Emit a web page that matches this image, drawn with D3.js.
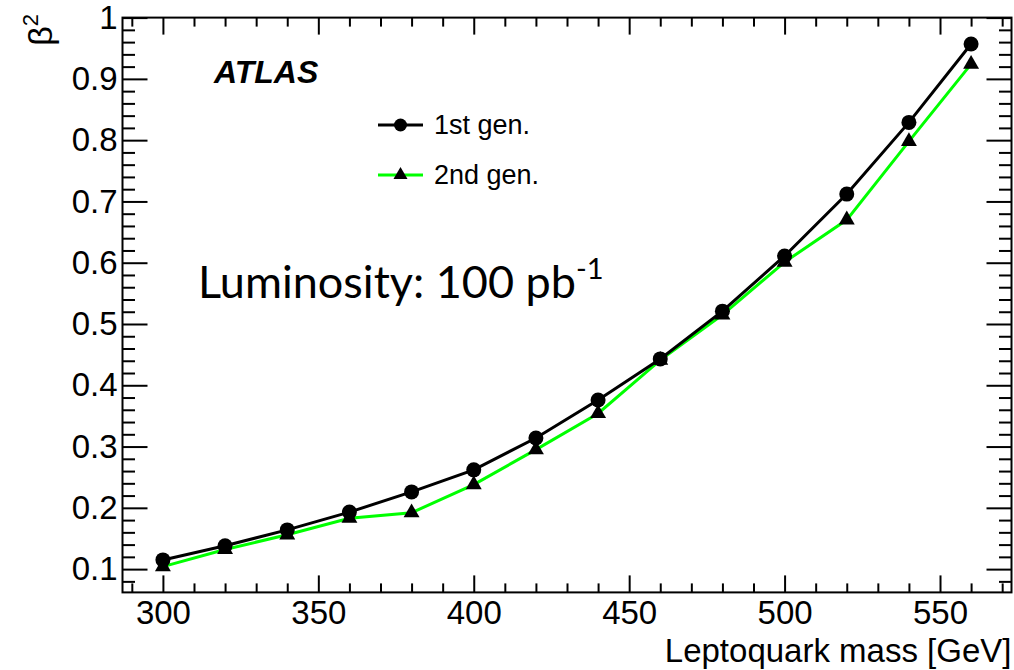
<!DOCTYPE html>
<html>
<head>
<meta charset="utf-8">
<script src="https://cdn.jsdelivr.net/npm/d3@7"></script>
<style>
  html, body { margin: 0; padding: 0; background: #fff; }
  svg { display: block; }
  text { font-family: "Liberation Sans", Arial, Helvetica, sans-serif; fill: #000; }
</style>
</head>
<body>
<svg id="chart" width="1014" height="670"></svg>
<script>
// Leptoquark masses [GeV]
const masses = [300, 320, 340, 360, 380, 400, 420, 440, 460, 480, 500, 520, 540, 560];
// beta^2 values for each generation
const gen1 = [0.115, 0.138, 0.164, 0.193, 0.226, 0.262, 0.314, 0.376, 0.443, 0.521, 0.611, 0.712, 0.829, 0.957];
const gen2 = [0.104, 0.132, 0.156, 0.183, 0.192, 0.238, 0.295, 0.354, 0.441, 0.515, 0.601, 0.670, 0.798, 0.924];
// tick labels
const xTicks = [300, 350, 400, 450, 500, 550];
const yTicks = [0.1, 0.2, 0.3, 0.4, 0.5, 0.6, 0.7, 0.8, 0.9, 1];

const svg = d3.select("#chart");
const L = 122.5, R = 1011.5, T = 17.6, B = 592.4;

const x = d3.scaleLinear().domain([287, 573]).range([L, R]);
const y = d3.scaleLinear().domain([0.062, 1.0]).range([B, T]);

const xMinor = d3.range(290, 573, 10).filter(v => v % 50 !== 0);
const yMinor = d3.range(0.08, 1.0001, 0.02).map(v => +v.toFixed(2))
  .filter(v => Math.abs(v * 10 - Math.round(v * 10)) > 1e-6);

function styleAxis(g) {
  g.select(".domain").remove();
  g.selectAll(".tick line").attr("stroke", "#000").attr("stroke-width", 2);
}

// bottom axis
svg.append("g").attr("transform", `translate(0,${B})`)
  .call(d3.axisBottom(x).tickValues(xTicks).tickSize(-17).tickPadding(8).tickFormat(d3.format("d")))
  .call(styleAxis)
  .selectAll("text").attr("font-size", 33).style("font-family", "Liberation Sans, Arial, sans-serif");
svg.append("g").attr("transform", `translate(0,${B})`)
  .call(d3.axisBottom(x).tickValues(xMinor).tickSize(-9).tickFormat(""))
  .call(styleAxis);
// top axis (mirrored ticks)
svg.append("g").attr("transform", `translate(0,${T})`)
  .call(d3.axisTop(x).tickValues(xTicks).tickSize(-17).tickFormat(""))
  .call(styleAxis);
svg.append("g").attr("transform", `translate(0,${T})`)
  .call(d3.axisTop(x).tickValues(xMinor).tickSize(-9).tickFormat(""))
  .call(styleAxis);

// left axis
svg.append("g").attr("transform", `translate(${L},0)`)
  .call(d3.axisLeft(y).tickValues(yTicks).tickSize(-25).tickPadding(5).tickFormat(d => d === 1 ? "1" : d3.format(".1f")(d)))
  .call(styleAxis)
  .selectAll("text").attr("font-size", 33).style("font-family", "Liberation Sans, Arial, sans-serif");
svg.append("g").attr("transform", `translate(${L},0)`)
  .call(d3.axisLeft(y).tickValues(yMinor).tickSize(-12.5).tickFormat(""))
  .call(styleAxis);
// right axis (mirrored ticks)
svg.append("g").attr("transform", `translate(${R},0)`)
  .call(d3.axisRight(y).tickValues(yTicks).tickSize(-25).tickFormat(""))
  .call(styleAxis);
svg.append("g").attr("transform", `translate(${R},0)`)
  .call(d3.axisRight(y).tickValues(yMinor).tickSize(-12.5).tickFormat(""))
  .call(styleAxis);

// frame
svg.append("rect").attr("x", L).attr("y", T).attr("width", R - L).attr("height", B - T)
  .attr("fill", "none").attr("stroke", "#000").attr("stroke-width", 2);

// axis titles
svg.append("text").attr("x", R).attr("y", 662).attr("text-anchor", "end")
  .attr("font-size", 33).text("Leptoquark mass [GeV]");
const yt = svg.append("text").attr("transform", "translate(52,14) rotate(-90)")
  .attr("text-anchor", "end").attr("font-size", 34);
yt.append("tspan").text("β");
yt.append("tspan").attr("dy", -14).attr("font-size", 22).text("2");

// series
const line = d3.line().x(d => x(d[0])).y(d => y(d[1]));
const s1 = masses.map((m, i) => [m, gen1[i]]);
const s2 = masses.map((m, i) => [m, gen2[i]]);

svg.append("path").datum(s2).attr("d", line).attr("fill", "none")
  .attr("stroke", "#00ff00").attr("stroke-width", 3);
svg.append("path").datum(s1).attr("d", line).attr("fill", "none")
  .attr("stroke", "#000").attr("stroke-width", 3);

const tri = d3.symbol().type(d3.symbolTriangle).size(110);
svg.append("g").selectAll("path").data(s2).join("path")
  .attr("d", tri).attr("fill", "#000")
  .attr("transform", d => `translate(${x(d[0])},${y(d[1])})`);
svg.append("g").selectAll("circle").data(s1).join("circle")
  .attr("cx", d => x(d[0])).attr("cy", d => y(d[1])).attr("r", 7.5).attr("fill", "#000");

// legend
const lg = [
  { label: "1st gen.", color: "#000", marker: "circle", yy: 125 },
  { label: "2nd gen.", color: "#00ff00", marker: "tri", yy: 175 }
];
lg.forEach(e => {
  svg.append("line").attr("x1", 378).attr("x2", 423).attr("y1", e.yy).attr("y2", e.yy)
    .attr("stroke", e.color).attr("stroke-width", 3);
  if (e.marker === "circle") {
    svg.append("circle").attr("cx", 400.5).attr("cy", e.yy).attr("r", 6.5).attr("fill", "#000");
  } else {
    svg.append("path").attr("d", d3.symbol().type(d3.symbolTriangle).size(85))
      .attr("transform", `translate(400.5,${e.yy})`).attr("fill", "#000");
  }
  svg.append("text").attr("x", 434).attr("y", e.yy + 9).attr("font-size", 27).text(e.label);
});

// labels inside the frame
svg.append("text").attr("x", 214).attr("y", 83).attr("font-size", 32)
  .attr("font-weight", "bold").attr("font-style", "italic").text("ATLAS");

const lum = svg.append("text").attr("x", 198).attr("y", 298)
  .style("font-family", "Lato, 'Open Sans', sans-serif").attr("font-size", 45);
lum.append("tspan").text("Luminosity: 100 pb");
lum.append("tspan").attr("dy", -19).attr("font-size", 29).text("-1");
</script>
</body>
</html>
